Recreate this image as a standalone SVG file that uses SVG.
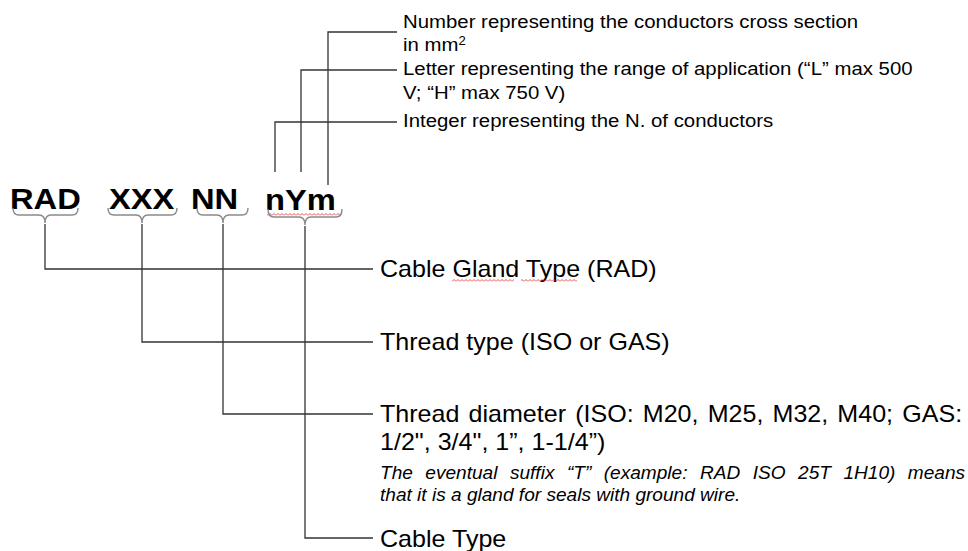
<svg xmlns="http://www.w3.org/2000/svg" width="968" height="551" viewBox="0 0 968 551">
  <style>
    .code { font-family: "Liberation Sans", Arial, sans-serif; font-weight: bold; font-size: 30px; fill: #000; }
    .top { font-family: "Liberation Sans", Arial, sans-serif; font-size: 18.7px; fill: #000; }
    .lbl { font-family: "Liberation Sans", Arial, sans-serif; font-size: 23px; fill: #000; }
    .note { font-family: "Liberation Sans", Arial, sans-serif; font-size: 17.5px; font-style: italic; fill: #000; }
    .line { fill: none; stroke: #333; stroke-width: 1.3; }
    .brace { fill: none; stroke: #8a8a8a; stroke-width: 1.4; }
  </style>
  <defs>
    <pattern id="wave" width="4" height="3" patternUnits="userSpaceOnUse">
      <path d="M0 2.5 L2 0.5 L4 2.5" fill="none" stroke="#e02020" stroke-width="0.8"/>
    </pattern>
  </defs>
  <rect width="968" height="551" fill="#fff"/>

  <g id="connectors">
    <path class="line" d="M328 185 V32 H397"/>
    <path class="line" d="M301 172 V70 H397"/>
    <path class="line" d="M275 172 V122 H397"/>
    <path class="line" d="M45 224 V269 H373"/>
    <path class="line" d="M142 224 V342 H373"/>
    <path class="line" d="M223 224 V414 H373"/>
    <path class="line" d="M305 226 V538 H373"/>
  </g>

  <g id="node-code">
    <text class="code" transform="translate(10,209) scale(1.09 1)">RAD</text>
    <text class="code" transform="translate(109,209) scale(1.09 1)">XXX</text>
    <text class="code" transform="translate(191,209) scale(1.09 1)">NN</text>
    <text class="code" transform="translate(265,210) scale(1.09 1)">nYm</text>
    <rect x="267" y="213" width="75" height="3" fill="url(#wave)"/>
    <path class="brace" d="M13 208 Q13 215 19 215 H39 Q45 215 45 223 Q45 215 51 215 H72 Q78 215 78 208"/>
    <path class="brace" d="M108 208 Q108 215 114 215 H136 Q142 215 142 223 Q142 215 148 215 H171 Q177 215 177 208"/>
    <path class="brace" d="M197 208 Q197 215 203 215 H217 Q223 215 223 223 Q223 215 229 215 H242 Q248 215 248 208"/>
    <path class="brace" d="M268 209 Q268 217 274 217 H299 Q305 217 305 225 Q305 217 311 217 H336 Q342 217 342 209"/>
  </g>

  <g id="node-section">
    <text class="top" transform="translate(403,28) scale(1.09 1)">Number representing the conductors cross section</text>
    <text class="top" transform="translate(403,51) scale(1.09 1)">in mm<tspan font-size="12" dy="-6">2</tspan></text>
  </g>

  <g id="node-range">
    <text class="top" transform="translate(403,75) scale(1.09 1)">Letter representing the range of application (“L” max 500</text>
    <text class="top" transform="translate(403,99) scale(1.09 1)">V; “H” max 750 V)</text>
  </g>

  <g id="node-conductors">
    <text class="top" transform="translate(403,127) scale(1.09 1)">Integer representing the N. of conductors</text>
  </g>

  <g id="node-gland-type">
    <text class="lbl" transform="translate(380,277) scale(1.09 1)">Cable Gland Type (RAD)</text>
    <rect x="452" y="279" width="62" height="3" fill="url(#wave)"/>
    <rect x="521" y="279" width="56" height="3" fill="url(#wave)"/>
  </g>

  <g id="node-thread-type">
    <text class="lbl" transform="translate(380,350) scale(1.09 1)">Thread type (ISO or GAS)</text>
  </g>

  <g id="node-thread-diameter">
    <text class="lbl" transform="translate(380,422) scale(1.09 1)" word-spacing="2">Thread diameter (ISO: M20, M25, M32, M40; GAS:</text>
    <text class="lbl" transform="translate(380,450) scale(1.09 1)">1/2", 3/4", 1”, 1-1/4”)</text>
    <text class="note" transform="translate(380,479) scale(1.09 1)" word-spacing="6.6">The eventual suffix “T” (example: RAD ISO 25T 1H10) means</text>
    <text class="note" transform="translate(380,501) scale(1.09 1)">that it is a gland for seals with ground wire.</text>
  </g>

  <g id="node-cable-type">
    <text class="lbl" transform="translate(380,547) scale(1.09 1)">Cable Type</text>
  </g>
</svg>
